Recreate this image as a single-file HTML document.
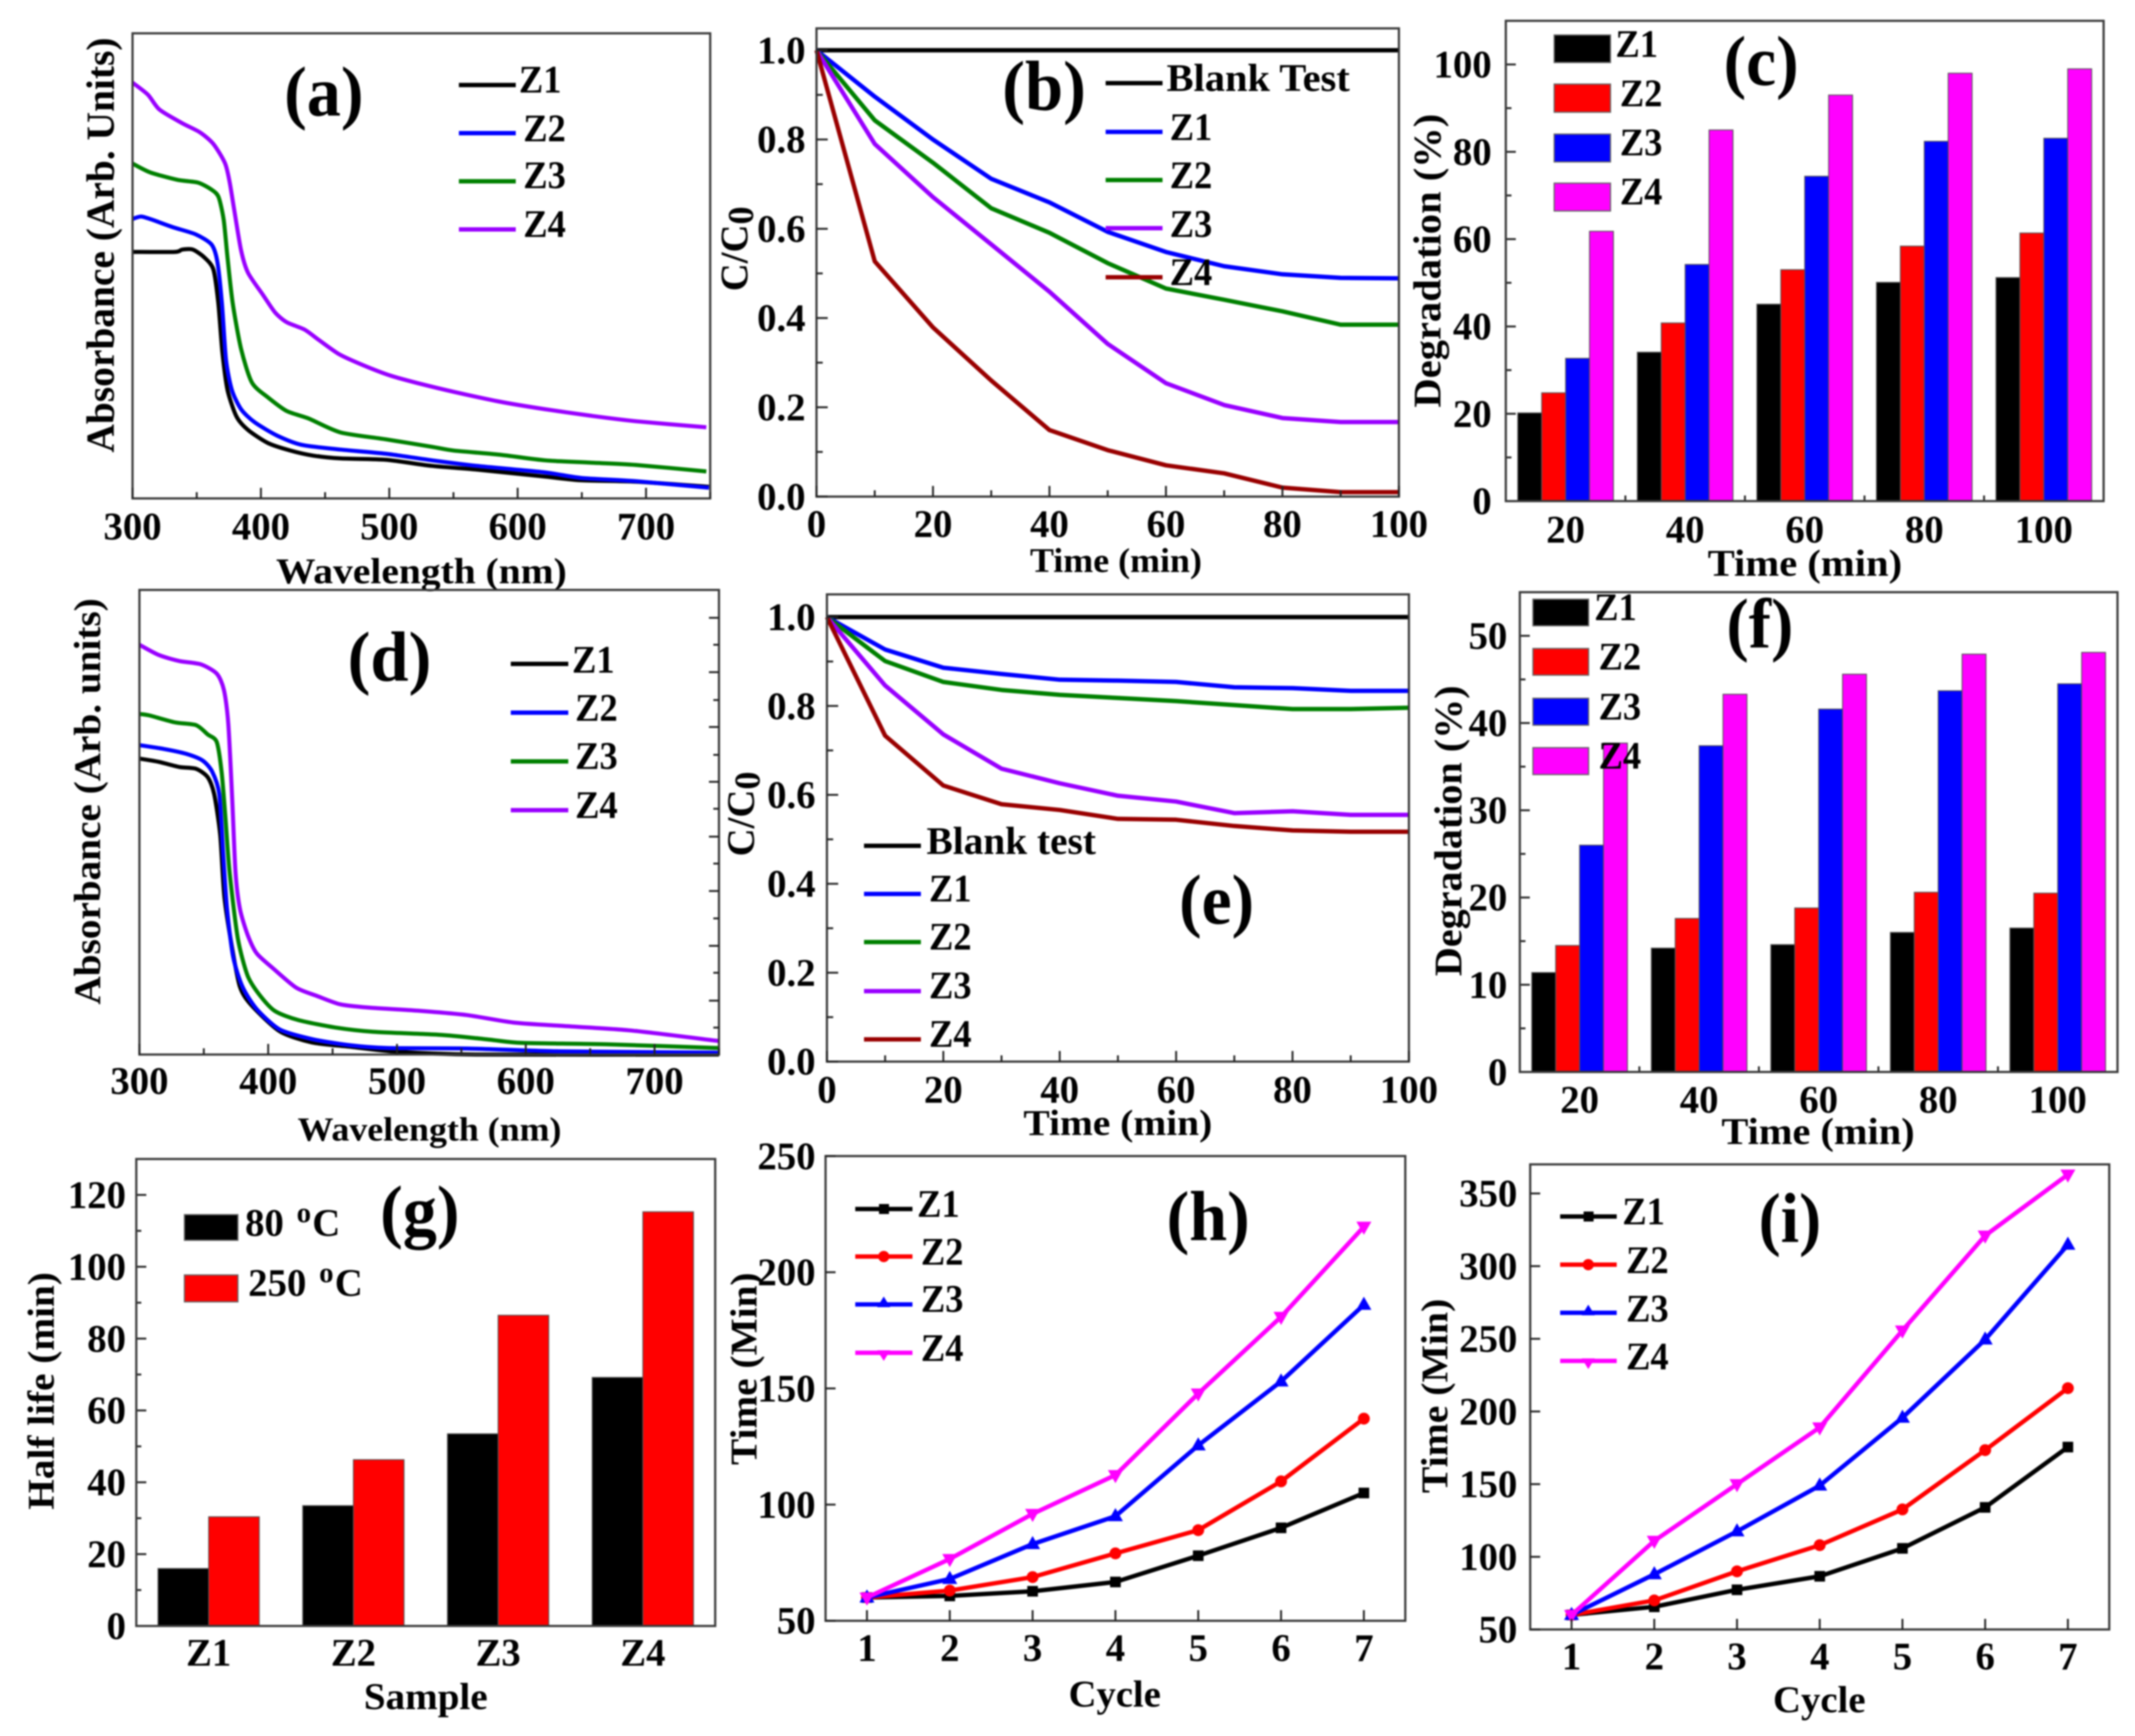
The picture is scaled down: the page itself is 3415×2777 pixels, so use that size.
<!DOCTYPE html>
<html lang="en">
<head>
<meta charset="utf-8">
<title>Photocatalysis composite figure</title>
<style>
html,body{margin:0;padding:0;background:#fff;}
svg{display:block;filter:blur(1.4px);}
text{font-family:"Liberation Serif",serif;font-weight:bold;fill:#000;}
.frame{fill:none;stroke:#3a3a3a;stroke-width:3.5;}
.leg{stroke-width:7;fill:none;}
.sw{stroke:#666;stroke-width:2;}
.t{font-size:62px;}
.title{font-size:113px;}
</style>
</head>
<body>
<svg id="figure" xmlns="http://www.w3.org/2000/svg" width="3415" height="2777" viewBox="0 0 3415 2777">
<rect x="0" y="0" width="3415" height="2777" fill="#fff"/>

<g id="panel-a">
  <g id="a-marks"></g>
  <rect class="frame" x="212" y="53.3" width="924" height="744"/>
  <g id="a-ticks"></g>
  <text class="title" x="518" y="185" text-anchor="middle" textLength="127" lengthAdjust="spacingAndGlyphs">(a)</text>
  <text x="674" y="933" font-size="58" text-anchor="middle" textLength="465" lengthAdjust="spacingAndGlyphs">Wavelength (nm)</text>
  <text transform="translate(182,392) rotate(-90)" font-size="63" text-anchor="middle" textLength="664" lengthAdjust="spacingAndGlyphs">Absorbance (Arb. Units)</text>
  <g>
    <g><line class="leg" x1="734" x2="825" y1="136" y2="136" stroke="#000"/><text class="t z" x="830" y="148">Z1</text></g>
    <g><line class="leg" x1="734" x2="825" y1="213" y2="213" stroke="#0000ff"/><text class="t z" x="837" y="226">Z2</text></g>
    <g><line class="leg" x1="734" x2="825" y1="290" y2="290" stroke="#008000"/><text class="t z" x="837" y="301">Z3</text></g>
    <g><line class="leg" x1="734" x2="825" y1="367" y2="367" stroke="#9900ff"/><text class="t z" x="837" y="379">Z4</text></g>
  </g>
</g>

<g id="panel-b">
  <g id="b-marks"></g>
  <rect class="frame" x="1306" y="45.4" width="931.6" height="749"/>
  <g id="b-ticks"></g>
  <text class="title" x="1670" y="176" text-anchor="middle" textLength="134" lengthAdjust="spacingAndGlyphs">(b)</text>
  <text x="1785" y="915" font-size="55" text-anchor="middle" textLength="275" lengthAdjust="spacingAndGlyphs">Time (min)</text>
  <text transform="translate(1195.5,398) rotate(-90)" font-size="62" text-anchor="middle">C/C<tspan dy="9" font-size="58">0</tspan></text>
  <g>
    <g><line class="leg" x1="1768.5" x2="1859.5" y1="133" y2="133" stroke="#000"/><text class="t" x="1866" y="145.5" textLength="293" lengthAdjust="spacingAndGlyphs">Blank Test</text></g>
    <g><line class="leg" x1="1768.5" x2="1859.5" y1="211" y2="211" stroke="#0000ff"/><text class="t z" x="1871" y="224">Z1</text></g>
    <g><line class="leg" x1="1768.5" x2="1859.5" y1="288" y2="288" stroke="#008000"/><text class="t z" x="1871" y="301">Z2</text></g>
    <g><line class="leg" x1="1768.5" x2="1859.5" y1="365" y2="365" stroke="#9900ff"/><text class="t z" x="1871" y="379">Z3</text></g>
    <g><line class="leg" x1="1768.5" x2="1859.5" y1="443.5" y2="443.5" stroke="#990000"/><text class="t z" x="1871" y="456">Z4</text></g>
  </g>
</g>

<g id="panel-c">
  <g id="c-ticks"></g>
  <g id="c-marks"></g>
  <rect class="frame" x="2408.6" y="33.3" width="956.2" height="768.3"/>
  <text class="title" x="2817" y="136" text-anchor="middle" textLength="120" lengthAdjust="spacingAndGlyphs">(c)</text>
  <text x="2887" y="921" font-size="60" text-anchor="middle" textLength="311" lengthAdjust="spacingAndGlyphs">Time (min)</text>
  <text transform="translate(2304,417) rotate(-90)" font-size="62" text-anchor="middle" textLength="470" lengthAdjust="spacingAndGlyphs">Degradation (%)</text>
  <g>
    <g><rect class="sw" x="2486" y="56" width="90" height="44" fill="#000"/><text class="t z" x="2584" y="91">Z1</text></g>
    <g><rect class="sw" x="2486" y="134.5" width="90" height="45" fill="#ff0000"/><text class="t z" x="2591" y="170">Z2</text></g>
    <g><rect class="sw" x="2486" y="214.5" width="90" height="44.5" fill="#0000ff"/><text class="t z" x="2591" y="248.5">Z3</text></g>
    <g><rect class="sw" x="2486" y="293" width="90" height="44.5" fill="#ff00ff"/><text class="t z" x="2591" y="327">Z4</text></g>
  </g>
</g>

<g id="panel-d">
  <g id="d-marks"></g>
  <rect class="frame" x="223" y="943.7" width="927" height="743.2"/>
  <g id="d-ticks"></g>
  <text class="title" x="623" y="1089" text-anchor="middle" textLength="134" lengthAdjust="spacingAndGlyphs">(d)</text>
  <text x="687" y="1824.5" font-size="54" text-anchor="middle" textLength="422" lengthAdjust="spacingAndGlyphs">Wavelength (nm)</text>
  <text transform="translate(160,1282) rotate(-90)" font-size="60" text-anchor="middle" textLength="650" lengthAdjust="spacingAndGlyphs">Absorbance (Arb. units)</text>
  <g>
    <g><line class="leg" x1="817" x2="909" y1="1062" y2="1062" stroke="#000"/><text class="t z" x="915" y="1076">Z1</text></g>
    <g><line class="leg" x1="817" x2="909" y1="1140" y2="1140" stroke="#0000ff"/><text class="t z" x="920" y="1153">Z2</text></g>
    <g><line class="leg" x1="817" x2="909" y1="1218" y2="1218" stroke="#008000"/><text class="t z" x="920" y="1230">Z3</text></g>
    <g><line class="leg" x1="817" x2="909" y1="1296" y2="1296" stroke="#9900ff"/><text class="t z" x="920" y="1308.5">Z4</text></g>
  </g>
</g>

<g id="panel-e">
  <g id="e-marks"></g>
  <rect class="frame" x="1322.7" y="950.8" width="930.9" height="747.4"/>
  <g id="e-ticks"></g>
  <text class="title" x="1946" y="1477.5" text-anchor="middle" textLength="120" lengthAdjust="spacingAndGlyphs">(e)</text>
  <text x="1788" y="1815.6" font-size="58" text-anchor="middle" textLength="302" lengthAdjust="spacingAndGlyphs">Time (min)</text>
  <text transform="translate(1206,1302) rotate(-90)" font-size="62" text-anchor="middle">C/C<tspan dy="9" font-size="58">0</tspan></text>
  <g>
    <g><line class="leg" x1="1382" x2="1473" y1="1353" y2="1353" stroke="#000"/><text class="t" x="1482" y="1366" textLength="271" lengthAdjust="spacingAndGlyphs">Blank test</text></g>
    <g><line class="leg" x1="1382" x2="1473" y1="1430" y2="1430" stroke="#0000ff"/><text class="t z" x="1486" y="1442">Z1</text></g>
    <g><line class="leg" x1="1382" x2="1473" y1="1507" y2="1507" stroke="#008000"/><text class="t z" x="1486" y="1519">Z2</text></g>
    <g><line class="leg" x1="1382" x2="1473" y1="1585.5" y2="1585.5" stroke="#9900ff"/><text class="t z" x="1486" y="1597">Z3</text></g>
    <g><line class="leg" x1="1382" x2="1473" y1="1662.6" y2="1662.6" stroke="#990000"/><text class="t z" x="1486" y="1674.5">Z4</text></g>
  </g>
</g>

<g id="panel-f">
  <g id="f-ticks"></g>
  <g id="f-marks"></g>
  <rect class="frame" x="2431" y="947.3" width="956" height="767.5"/>
  <text class="title" x="2815" y="1036" text-anchor="middle" textLength="107" lengthAdjust="spacingAndGlyphs">(f)</text>
  <text x="2908" y="1830" font-size="60" text-anchor="middle" textLength="309" lengthAdjust="spacingAndGlyphs">Time (min)</text>
  <text transform="translate(2337.4,1329) rotate(-90)" font-size="62" text-anchor="middle" textLength="465" lengthAdjust="spacingAndGlyphs">Degradation (%)</text>
  <g>
    <g><rect class="sw" x="2452" y="958.5" width="89" height="42.5" fill="#000"/><text class="t z" x="2550" y="992">Z1</text></g>
    <g><rect class="sw" x="2452" y="1037.4" width="89" height="42.6" fill="#ff0000"/><text class="t z" x="2557" y="1071">Z2</text></g>
    <g><rect class="sw" x="2452" y="1117" width="89" height="43" fill="#0000ff"/><text class="t z" x="2557" y="1151">Z3</text></g>
    <g><rect class="sw" x="2452" y="1196" width="89" height="43" fill="#ff00ff"/><text class="t z" x="2557" y="1229.6">Z4</text></g>
  </g>
</g>

<g id="panel-g">
  <g id="g-ticks"></g>
  <g id="g-marks"></g>
  <rect class="frame" x="218" y="1854" width="926" height="747"/>
  <text class="title" x="671.5" y="1975" text-anchor="middle" textLength="127" lengthAdjust="spacingAndGlyphs">(g)</text>
  <text x="681" y="2734" font-size="60" text-anchor="middle" textLength="198" lengthAdjust="spacingAndGlyphs">Sample</text>
  <text transform="translate(86,2225) rotate(-90)" font-size="60" text-anchor="middle" textLength="380" lengthAdjust="spacingAndGlyphs">Half life (min)</text>
  <g>
    <g><rect class="sw" x="295" y="1943" width="85.5" height="41" fill="#000"/><text class="t" x="392" y="1977">80 <tspan dx="5" dy="-22" font-size="46">o</tspan><tspan dx="2" dy="22">C</tspan></text></g>
    <g><rect class="sw" x="295" y="2039.5" width="85.5" height="43" fill="#ff0000"/><text class="t" x="397" y="2073">250 <tspan dx="5" dy="-22" font-size="46">o</tspan><tspan dx="2" dy="22">C</tspan></text></g>
  </g>
</g>

<g id="panel-h">
  <g id="h-marks"></g>
  <rect class="frame" x="1320.5" y="1849.3" width="927.3" height="743.4"/>
  <g id="h-ticks"></g>
  <text class="title" x="1932.5" y="1984" text-anchor="middle" textLength="133" lengthAdjust="spacingAndGlyphs">(h)</text>
  <text x="1783" y="2730" font-size="60" text-anchor="middle" textLength="147.5" lengthAdjust="spacingAndGlyphs">Cycle</text>
  <text transform="translate(1210,2189.5) rotate(-90)" font-size="60" text-anchor="middle" textLength="308" lengthAdjust="spacingAndGlyphs">Time (Min)</text>
  <g>
    <g><line class="leg" x1="1368" x2="1459.5" y1="1934" y2="1934" stroke="#000"/><rect x="1406" y="1926" width="16" height="16" fill="#000"/><text class="t z" x="1467" y="1946.5">Z1</text></g>
    <g><line class="leg" x1="1368" x2="1459.5" y1="2010" y2="2010" stroke="#ff0000"/><circle cx="1413.6" cy="2010" r="9" fill="#ff0000"/><text class="t z" x="1473" y="2023">Z2</text></g>
    <g><line class="leg" x1="1368" x2="1459.5" y1="2086.6" y2="2086.6" stroke="#0000ff"/><polygon points="1413.6,2074 1424,2091 1403,2091" fill="#0000ff"/><text class="t z" x="1473" y="2098.7">Z3</text></g>
    <g><line class="leg" x1="1368" x2="1459.5" y1="2164" y2="2164" stroke="#ff00ff"/><polygon points="1413.6,2177 1424,2160 1403,2160" fill="#ff00ff"/><text class="t z" x="1473" y="2177">Z4</text></g>
  </g>
</g>

<g id="panel-i">
  <g id="i-marks"></g>
  <rect class="frame" x="2447.6" y="1862.6" width="926.2" height="744"/>
  <g id="i-ticks"></g>
  <text class="title" x="2863" y="1987" text-anchor="middle" textLength="100" lengthAdjust="spacingAndGlyphs">(i)</text>
  <text x="2910" y="2739" font-size="60" text-anchor="middle" textLength="148" lengthAdjust="spacingAndGlyphs">Cycle</text>
  <text transform="translate(2315,2233) rotate(-90)" font-size="60" text-anchor="middle" textLength="311" lengthAdjust="spacingAndGlyphs">Time (Min)</text>
  <g>
    <g><line class="leg" x1="2495.5" x2="2586" y1="1946" y2="1946" stroke="#000"/><rect x="2533" y="1938" width="16" height="16" fill="#000"/><text class="t z" x="2595" y="1958.6">Z1</text></g>
    <g><line class="leg" x1="2495.5" x2="2586" y1="2023" y2="2023" stroke="#ff0000"/><circle cx="2540.5" cy="2023" r="9" fill="#ff0000"/><text class="t z" x="2601" y="2036.5">Z2</text></g>
    <g><line class="leg" x1="2495.5" x2="2586" y1="2100" y2="2100" stroke="#0000ff"/><polygon points="2540.5,2087 2551,2104 2530,2104" fill="#0000ff"/><text class="t z" x="2601" y="2114">Z3</text></g>
    <g><line class="leg" x1="2495.5" x2="2586" y1="2177" y2="2177" stroke="#ff00ff"/><polygon points="2540.5,2190 2551,2173 2530,2173" fill="#ff00ff"/><text class="t z" x="2601" y="2190.5">Z4</text></g>
  </g>
</g>
</svg>

<script>
// ---------- Panel (a) data ----------
const aZ1Nm = [300,333,338.5,347,356,363,366.8,370,374,381,390,405.6,423,441,462,497.5,533,568,621,649.5,692,749];
const aZ1Abs = [53,53,53.5,53.5,51.8,49.2,42,31.4,23.3,17.6,14.7,11.9,10.3,9.2,8.6,8.3,7,6.2,4.7,3.9,3.6,2.5];
const aZ2Nm = [300,306.7,315.5,331.5,349,361.5,366,369.6,372.8,377.4,384.5,395,412.7,432,462,497.5,533,568,621,649.5,692,749];
const aZ2Abs = [60.1,60.6,59.9,58.3,56.8,54.6,51,42,29.8,23.3,19.2,16.4,13.5,11.5,10.5,9.6,8.2,7,5.6,4.4,3.7,2.3];
const aZ3Nm = [300,313.8,335,351,361.5,367,371,374,378,384.5,393,405.6,420,437,462,497.5,533,550,586,621,656.5,692,747];
const aZ3Abs = [72,70.1,68.5,67.9,66.4,64.8,59.9,51.8,42,32.2,24.9,21.7,18.8,17.2,14.2,12.7,11.1,10.3,9.4,8.2,7.7,7.2,5.8];
const aZ4Nm = [300,312,321,338.5,352.6,363,372,375.6,379,384.5,390,402,411,420,434,445,461,480,501,522,550.5,586,621,656.5,692,747];
const aZ4Abs = [89.4,86.8,83.6,80.7,78.7,76.2,72.1,68.1,62.4,53.4,48.5,43.6,40,37.9,36.3,34.1,31,28.6,26.4,24.8,22.9,20.8,19.2,17.8,16.6,15.3];

// ---------- Panel (d) data ----------
const dZ1Nm = [300,315,331,344,353,358,362.7,366,371.7,378,387,409,434,463,499.6,561,750];
const dZ1Abs = [63.7,63,61.9,61.5,59.7,56.1,47.3,33.8,23.4,14.6,10.6,5,2.6,1.7,0.6,0,0];
const dZ2Nm = [300,318.5,336.6,349,356.5,362,365,368,372.8,380,391,409,434.4,463.4,492.4,554,626.4,750];
const dZ2Abs = [66.6,65.8,64.7,63.3,60.9,56.1,43.3,31.4,21,14.6,9.8,5.4,3.3,2,1.4,1.3,0.7,0.4];
const dZ3Nm = [300,307.6,327.5,344,353,360,363.8,366.7,370,376.4,384,392.8,405,423.6,452.5,481.5,536,572,597,662.7,750];
const dZ3Abs = [73.3,73,71.5,70.9,68.9,67.3,60.9,51.3,39.3,25,17,13,9.4,7.4,5.8,4.9,4.2,3.2,2.5,2.2,1.4];
const dZ4Nm = [300,315,331,347.5,360,365.6,369,372,374.6,378,384,391,403.6,421.7,438,456,478,517.8,554,590,626,681,750];
const dZ4Abs = [88.2,86,84.7,84,82,78.5,71.3,55.3,39.3,31.4,25.8,21.8,18.6,14.4,12.6,10.8,10.1,9.4,8.5,6.9,6.2,5.2,2.9];
const dRightMajorTicks = [94,82.3,70.5,58.7,46.9,35.2,23.4,11.6];
const dRightMinorTicks = [88.2,76.3,64.5,52.9,41.1,29.3,17.6,5.8];

// ---------- Panels (b), (e) data ----------
const timeMinutes = [0,10,20,30,40,50,60,70,80,90,100];
const bBlank = [1,1,1,1,1,1,1,1,1,1,1];
const bZ1 = [1,0.896,0.80,0.712,0.659,0.593,0.548,0.516,0.498,0.49,0.489];
const bZ2 = [1,0.843,0.748,0.646,0.591,0.523,0.466,0.441,0.415,0.385,0.385];
const bZ3 = [1,0.79,0.671,0.565,0.459,0.342,0.254,0.205,0.176,0.167,0.167];
const bZ4 = [1,0.527,0.379,0.26,0.149,0.104,0.07,0.052,0.02,0.01,0.01];
const eBlank = [1,1,1,1,1,1,1,1,1,1,1];
const eZ1 = [1,0.927,0.886,0.872,0.859,0.857,0.854,0.842,0.84,0.834,0.834];
const eZ2 = [1,0.901,0.854,0.836,0.825,0.818,0.811,0.802,0.793,0.793,0.796];
const eZ3 = [1,0.846,0.736,0.659,0.626,0.598,0.585,0.559,0.563,0.555,0.555];
const eZ4 = [1,0.733,0.621,0.579,0.566,0.546,0.544,0.53,0.52,0.517,0.517];

// ---------- Panels (c), (f) data ----------
const degradationTimes = ['20','40','60','80','100'];
const cZ1 = [20.2,34.1,45.1,50.1,51.2];
const cZ2 = [24.8,40.8,53,58.4,61.4];
const cZ3 = [32.7,54.2,74.4,82.4,83.1];
const cZ4 = [61.8,85,93,98,99];
const fZ1 = [11.4,14.2,14.6,16,16.5];
const fZ2 = [14.5,17.6,18.8,20.6,20.5];
const fZ3 = [26,37.4,41.6,43.7,44.5];
const fZ4 = [37.7,43.3,45.6,47.9,48.1];

// ---------- Panel (g) data ----------
const sampleNames = ['Z1','Z2','Z3','Z4'];
const gHalfLife80 = [16,33.5,53.5,69.2];
const gHalfLife250 = [30.4,46.3,86.5,115.3];

// ---------- Panels (h), (i) data ----------
const cycles = [1,2,3,4,5,6,7];
const hZ1 = [60,60.7,62.7,66.7,78,90,105];
const hZ2 = [60,63,68.8,79,89,110,137];
const hZ3 = [60,68,83,95,125.5,153,186];
const hZ4 = [60,76.6,96,112.7,147.8,180.8,219.6];
const iZ1 = [60,65.6,77.3,86.6,105.8,134,175.5];
const iZ2 = [60,70,90,108,132.6,173.4,216];
const iZ3 = [60,88,117.5,149,195.7,249.5,314.7];
const iZ4 = [60,111,150,189,255.7,321,363];

// ---------- Tick arrays ----------
const nmMajorTicks = [300,400,500,600,700];
const nmMinorTicks = [350,450,550,650,750];
const timeMajorTicks = [0,20,40,60,80,100];
const timeMinorTicks = [10,30,50,70,90];
const ratioMajorTicks = ['0.0','0.2','0.4','0.6','0.8','1.0'];
const ratioMinorTicks = [0.1,0.3,0.5,0.7,0.9];
const cDegMajorTicks = [0,20,40,60,80,100];
const cDegMinorTicks = [10,30,50,70,90];
const fDegMajorTicks = [0,10,20,30,40,50];
const fDegMinorTicks = [5,15,25,35,45];
const gLifeMajorTicks = [0,20,40,60,80,100,120];
const gLifeMinorTicks = [10,30,50,70,90,110];
const hTimeMajorTicks = [50,100,150,200,250];
const iTimeMajorTicks = [50,100,150,200,250,300,350];

const NS = 'http://www.w3.org/2000/svg';
function make(tag, parent, geometry) {
  const node = document.createElementNS(NS, tag);
  for (const key in geometry) node.setAttribute(key, geometry[key]);
  parent.appendChild(node);
  return node;
}
function scale(d0, d1, r0, r1) {
  return v => r0 + (v - d0) / (d1 - d0) * (r1 - r0);
}
function panel(id, left, right, top, bottom, xDomain, yDomain) {
  return {
    ticks: document.getElementById(id + '-ticks'),
    marks: document.getElementById(id + '-marks'),
    left, right, top, bottom,
    x: scale(xDomain[0], xDomain[1], left, right),
    y: scale(yDomain[0], yDomain[1], bottom, top)
  };
}
function xTick(p, value, length) {
  const tick = make('line', p.ticks, {x1: p.x(value), x2: p.x(value), y1: p.bottom, y2: p.bottom - length, stroke: '#222', 'stroke-width': 3});
  
  
}
function yTick(p, value, length, onRight) {
  const x0 = onRight ? p.right : p.left;
  const x1 = onRight ? p.right - length : p.left + length;
  const tick = make('line', p.ticks, {x1: x0, x2: x1, y1: p.y(value), y2: p.y(value), stroke: '#222', 'stroke-width': 3});
  
  
}
function xLabel(p, value, text, baseline) {
  const label = make('text', p.ticks, {x: p.x(value), y: baseline, 'text-anchor': 'middle', 'font-size': 62});
  label.textContent = text;
  
  
}
function yLabel(p, value, text, rightEdge) {
  const label = make('text', p.ticks, {x: rightEdge, y: p.y(value) + 21, 'text-anchor': 'end', 'font-size': 62});
  label.textContent = text;
  
  
}
function curve(p, xs, ys, color, name) {
  const d = xs.map((v, i) => (i ? 'L' : 'M') + p.x(v).toFixed(1) + ' ' + p.y(ys[i]).toFixed(1)).join('');
  const line = make('path', p.marks, {d: d, fill: 'none', stroke: color, 'stroke-width': 7, 'stroke-linejoin': 'round'});
  
  
}
function smoothCurve(p, xs, ys, color, name) {
  const px = xs.map(p.x);
  const py = ys.map(p.y);
  let d = 'M' + px[0].toFixed(1) + ' ' + py[0].toFixed(1);
  for (let i = 0; i < px.length - 1; i++) {
    const a = Math.max(i - 1, 0), b = Math.min(i + 2, px.length - 1);
    const c1x = px[i] + (px[i + 1] - px[a]) / 8, c1y = py[i] + (py[i + 1] - py[a]) / 8;
    const c2x = px[i + 1] - (px[b] - px[i]) / 8, c2y = py[i + 1] - (py[b] - py[i]) / 8;
    d += 'C' + c1x.toFixed(1) + ' ' + c1y.toFixed(1) + ' ' + c2x.toFixed(1) + ' ' + c2y.toFixed(1) + ' ' + px[i + 1].toFixed(1) + ' ' + py[i + 1].toFixed(1);
  }
  const line = make('path', p.marks, {d: d, fill: 'none', stroke: color, 'stroke-width': 6.5, 'stroke-linejoin': 'round'});
  
  
}
function bar(p, center, width, value, color, name) {
  const rect = make('rect', p.marks, {
    x: p.x(center - width / 2), y: p.y(value),
    width: p.x(center + width / 2) - p.x(center - width / 2),
    height: p.y(0) - p.y(value),
    fill: color, stroke: '#555', 'stroke-width': 1.5
  });
  
  
}
function marker(p, xValue, yValue, kind, color, name) {
  const cx = p.x(xValue), cy = p.y(yValue);
  let mark;
  if (kind === 'square') {
    mark = make('rect', p.marks, {x: cx - 8.5, y: cy - 8.5, width: 17, height: 17, fill: color});
  } else if (kind === 'circle') {
    mark = make('circle', p.marks, {cx: cx, cy: cy, r: 9.5, fill: color});
  } else if (kind === 'up') {
    mark = make('polygon', p.marks, {points: [cx, cy - 13, cx + 12, cy + 8, cx - 12, cy + 8].join(' '), fill: color});
  } else {
    mark = make('polygon', p.marks, {points: [cx, cy + 13, cx + 12, cy - 8, cx - 12, cy - 8].join(' '), fill: color});
  }
  
  
}

// ---------- Spectra panels ----------
function spectraPanel(p, labelBaseline, seriesNm, seriesAbs) {
  const colors = ['#000000', '#0000ff', '#008000', '#9900ff'];
  const names = ['line-z1', 'line-z2', 'line-z3', 'line-z4'];
  nmMajorTicks.forEach(v => { xTick(p, v, 17); xLabel(p, v, String(v), labelBaseline); });
  nmMinorTicks.forEach(v => xTick(p, v, 10));
  seriesNm.forEach((xs, i) => smoothCurve(p, xs, seriesAbs[i], colors[i], names[i]));
}
const pa = panel('a', 212, 1136, 53.3, 797.3, [300, 750], [0, 100]);
spectraPanel(pa, 863, [aZ1Nm, aZ2Nm, aZ3Nm, aZ4Nm], [aZ1Abs, aZ2Abs, aZ3Abs, aZ4Abs]);
const pd = panel('d', 223, 1150, 943.7, 1686.9, [300, 750], [0, 100]);
spectraPanel(pd, 1750, [dZ1Nm, dZ2Nm, dZ3Nm, dZ4Nm], [dZ1Abs, dZ2Abs, dZ3Abs, dZ4Abs]);
dRightMajorTicks.forEach(v => yTick(pd, v, 16, true));
dRightMinorTicks.forEach(v => yTick(pd, v, 9, true));

// ---------- Kinetics panels ----------
function kineticsPanel(p, labelBaseline, labelRight, series) {
  const colors = ['#000000', '#0000ff', '#008000', '#9900ff', '#990000'];
  const names = ['line-blank-test', 'line-z1', 'line-z2', 'line-z3', 'line-z4'];
  timeMajorTicks.forEach(v => { xTick(p, v, 17); xLabel(p, v, String(v), labelBaseline); });
  timeMinorTicks.forEach(v => xTick(p, v, 10));
  ratioMajorTicks.forEach(t => { yTick(p, Number(t), 18); yLabel(p, Number(t), t, labelRight); });
  ratioMinorTicks.forEach(v => yTick(p, v, 10));
  series.forEach((ys, i) => curve(p, timeMinutes, ys, colors[i], names[i]));
}
const pb = panel('b', 1306, 2237.6, 45.4, 794.3, [0, 100], [0, 1.049]);
kineticsPanel(pb, 859, 1288.5, [bBlank, bZ1, bZ2, bZ3, bZ4]);
const pe = panel('e', 1322.7, 2253.6, 950.8, 1698.2, [0, 100], [0, 1.051]);
kineticsPanel(pe, 1764, 1304.5, [eBlank, eZ1, eZ2, eZ3, eZ4]);

// ---------- Degradation bar panels ----------
function degradationPanel(p, labelBaseline, labelRight, major, minor, series) {
  const colors = ['#000000', '#ff0000', '#0000ff', '#ff00ff'];
  const names = ['bar-z1', 'bar-z2', 'bar-z3', 'bar-z4'];
  degradationTimes.forEach((t, i) => {
    xTick(p, i, 14);
    xLabel(p, i, t, labelBaseline);
    if (i < degradationTimes.length - 1) xTick(p, i + 0.5, 9);
  });
  major.forEach(v => { yTick(p, v, 16); yLabel(p, v, String(v), labelRight); });
  minor.forEach(v => yTick(p, v, 9));
  series.forEach((values, s) => {
    values.forEach((v, i) => bar(p, i + (s - 1.5) * 0.2, 0.2, v, colors[s], names[s]));
  });
}
const pc = panel('c', 2408.6, 3364.8, 33.3, 801.6, [-0.5, 4.5], [0, 110]);
degradationPanel(pc, 868, 2386, cDegMajorTicks, cDegMinorTicks, [cZ1, cZ2, cZ3, cZ4]);
const pf = panel('f', 2431, 3387, 947.3, 1714.8, [-0.5, 4.5], [0, 55]);
degradationPanel(pf, 1780, 2411, fDegMajorTicks, fDegMinorTicks, [fZ1, fZ2, fZ3, fZ4]);

// ---------- Half-life panel ----------
const pg = panel('g', 218, 1144, 1854, 2601, [-0.5, 3.5], [0, 130]);
sampleNames.forEach((name, i) => {
  xTick(pg, i, 12);
  xLabel(pg, i, name, 2664.5);
  bar(pg, i - 0.175, 0.35, gHalfLife80[i], '#000000', 'bar-80c');
  bar(pg, i + 0.175, 0.35, gHalfLife250[i], '#ff0000', 'bar-250c');
});
gLifeMajorTicks.forEach(v => { yTick(pg, v, 16); yLabel(pg, v, String(v), 201.5); });
gLifeMinorTicks.forEach(v => yTick(pg, v, 8));

// ---------- Cycle panels ----------
function cyclePanel(p, labelBaseline, labelRight, major, series) {
  const colors = ['#000000', '#ff0000', '#0000ff', '#ff00ff'];
  const names = ['line-z1', 'line-z2', 'line-z3', 'line-z4'];
  const kinds = ['square', 'circle', 'up', 'down'];
  cycles.forEach(c => { xTick(p, c, 17); xLabel(p, c, String(c), labelBaseline); });
  major.forEach(v => { yTick(p, v, 16); yLabel(p, v, String(v), labelRight); });
  series.forEach((ys, s) => {
    curve(p, cycles, ys, colors[s], names[s]);
    ys.forEach((v, i) => marker(p, cycles[i], v, kinds[s], colors[s], 'point-z' + (s + 1)));
  });
}
const ph = panel('h', 1320.5, 2247.8, 1849.3, 2592.7, [0.5, 7.5], [50, 250]);
cyclePanel(ph, 2657, 1304.5, hTimeMajorTicks, [hZ1, hZ2, hZ3, hZ4]);
const pi = panel('i', 2447.6, 3373.8, 1862.6, 2606.6, [0.5, 7.5], [50, 370]);
cyclePanel(pi, 2670.6, 2427, iTimeMajorTicks, [iZ1, iZ2, iZ3, iZ4]);

// Legend Z labels are slightly narrower than the natural glyph width.
document.querySelectorAll('text.z').forEach(label => {
  label.setAttribute('textLength', '68');
  label.setAttribute('lengthAdjust', 'spacingAndGlyphs');
});
</script>
</body>
</html>
